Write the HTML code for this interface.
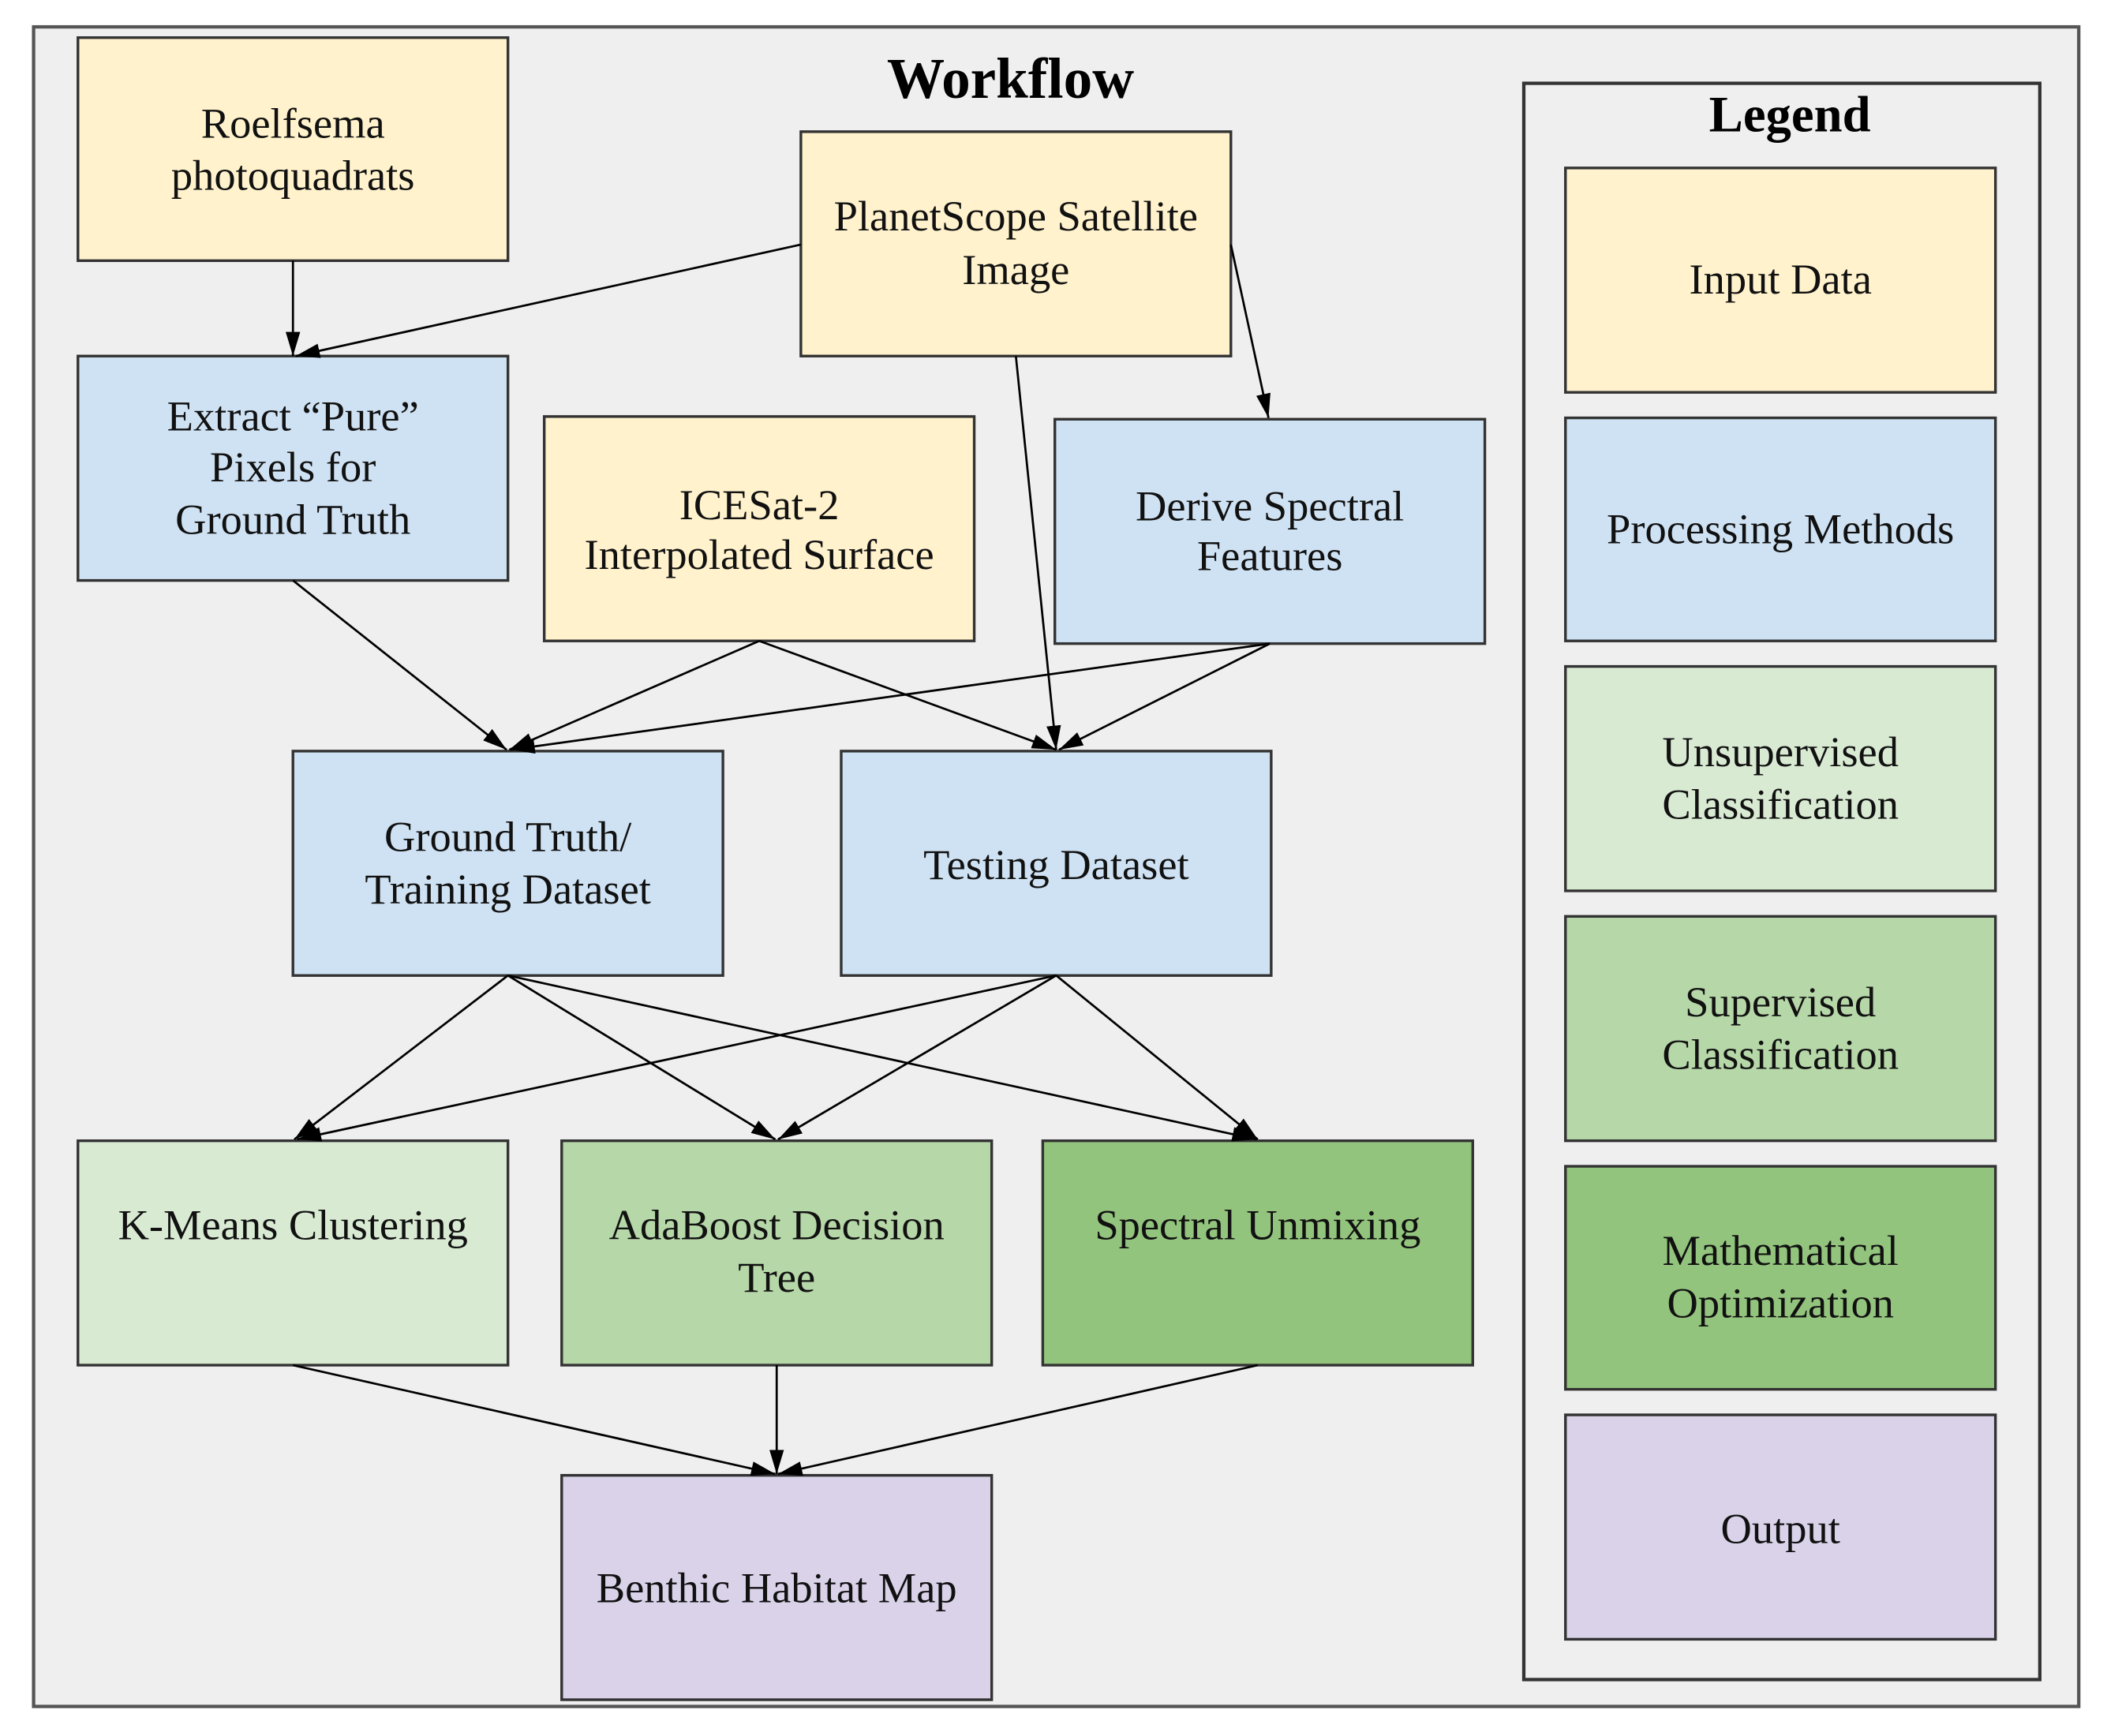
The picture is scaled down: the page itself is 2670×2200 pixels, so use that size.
<!DOCTYPE html>
<html><head><meta charset="utf-8"><style>html,body{margin:0;padding:0;background:#fff}svg{display:block}</style></head><body>
<svg width="2670" height="2200" viewBox="0 0 1568 1292" xmlns="http://www.w3.org/2000/svg">
<defs><marker id="b" viewBox="0 0 10 10" refX="10" refY="5" markerWidth="18" markerHeight="18" markerUnits="userSpaceOnUse" orient="auto"><path d="M0,2 L10,5 L0,8 z" fill="#000"/></marker></defs>
<rect x="25" y="20" width="1522" height="1250" fill="#efefef" stroke="#555" stroke-width="2.5"/>
<g font-family="Liberation Serif, serif" text-anchor="middle" dominant-baseline="middle">
<text x="752" y="63" font-size="43" font-weight="bold">Workflow</text>
<rect x="1134" y="62" width="384" height="1188" fill="none" stroke="#333" stroke-width="2.5"/>
<text x="1332" y="89" font-size="38" font-weight="bold">Legend</text>
<g stroke="#333" stroke-width="2">
<rect x="1165" y="125" width="320" height="167" fill="#fff2cc"/>
<rect x="1165" y="311" width="320" height="166" fill="#cfe2f3"/>
<rect x="1165" y="496" width="320" height="167" fill="#d9ead3"/>
<rect x="1165" y="682" width="320" height="167" fill="#b6d7a8"/>
<rect x="1165" y="868" width="320" height="166" fill="#93c47d"/>
<rect x="1165" y="1053" width="320" height="167" fill="#d9d2e9"/>
<rect x="58" y="28" width="320" height="166" fill="#fff2cc"/>
<rect x="596" y="98" width="320" height="167" fill="#fff2cc"/>
<rect x="58" y="265" width="320" height="167" fill="#cfe2f3"/>
<rect x="405" y="310" width="320" height="167" fill="#fff2cc"/>
<rect x="785" y="312" width="320" height="167" fill="#cfe2f3"/>
<rect x="218" y="559" width="320" height="167" fill="#cfe2f3"/>
<rect x="626" y="559" width="320" height="167" fill="#cfe2f3"/>
<rect x="58" y="849" width="320" height="167" fill="#d9ead3"/>
<rect x="418" y="849" width="320" height="167" fill="#b6d7a8"/>
<rect x="776" y="849" width="320" height="167" fill="#93c47d"/>
<rect x="418" y="1098" width="320" height="167" fill="#d9d2e9"/>
</g>
<g stroke="#000" stroke-width="1.6" marker-end="url(#b)">
<line x1="218" y1="194" x2="218" y2="265"/>
<line x1="596" y1="182" x2="220" y2="265"/>
<line x1="916" y1="182" x2="944" y2="311"/>
<line x1="756" y1="265" x2="786" y2="558"/>
<line x1="218" y1="432" x2="377" y2="558"/>
<line x1="565" y1="477" x2="379" y2="558"/>
<line x1="565" y1="477" x2="786" y2="558"/>
<line x1="945" y1="479" x2="380" y2="558"/>
<line x1="945" y1="479" x2="788" y2="558"/>
<line x1="378" y1="726" x2="219" y2="848"/>
<line x1="378" y1="726" x2="577" y2="848"/>
<line x1="378" y1="726" x2="935" y2="848"/>
<line x1="786" y1="726" x2="221" y2="848"/>
<line x1="786" y1="726" x2="579" y2="848"/>
<line x1="786" y1="726" x2="936" y2="848"/>
<line x1="218" y1="1016" x2="577" y2="1097"/>
<line x1="578" y1="1016" x2="578" y2="1097"/>
<line x1="936" y1="1016" x2="579" y2="1097"/>
</g>
<g font-size="32" fill="#111">
<text x="1325" y="211">Input Data</text>
<text x="1325" y="397">Processing Methods</text>
<text x="1325" y="563">Unsupervised</text><text x="1325" y="602">Classification</text>
<text x="1325" y="749">Supervised</text><text x="1325" y="788">Classification</text>
<text x="1325" y="934">Mathematical</text><text x="1325" y="973">Optimization</text>
<text x="1325" y="1141">Output</text>
<text x="218" y="95">Roelfsema</text><text x="218" y="134">photoquadrats</text>
<text x="756" y="164">PlanetScope Satellite</text><text x="756" y="204">Image</text>
<text x="218" y="313">Extract “Pure”</text><text x="218" y="351">Pixels for</text><text x="218" y="390">Ground Truth</text>
<text x="565" y="379">ICESat-2</text><text x="565" y="416">Interpolated Surface</text>
<text x="945" y="380">Derive Spectral</text><text x="945" y="417">Features</text>
<text x="378" y="626">Ground Truth/</text><text x="378" y="665">Training Dataset</text>
<text x="786" y="647">Testing Dataset</text>
<text x="218" y="915">K-Means Clustering</text>
<text x="578" y="915">AdaBoost Decision</text><text x="578" y="954">Tree</text>
<text x="936" y="915">Spectral Unmixing</text>
<text x="578" y="1185">Benthic Habitat Map</text>
</g>
</g>
</svg>
</body></html>
